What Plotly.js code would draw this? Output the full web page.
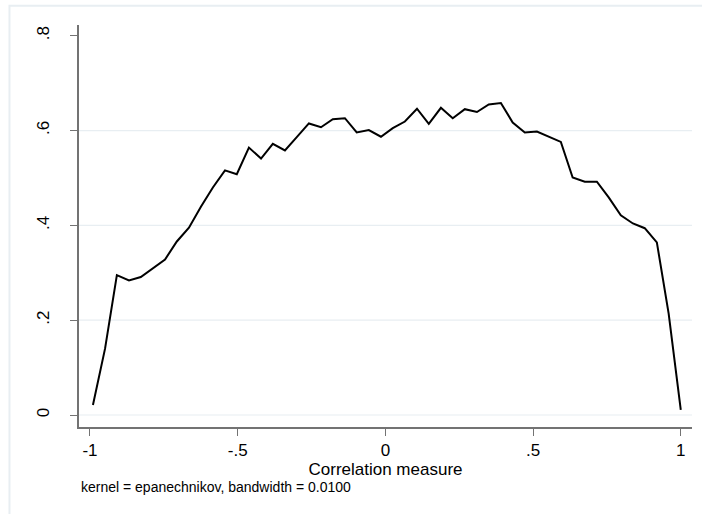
<!DOCTYPE html>
<html>
<head>
<meta charset="utf-8">
<script src="https://cdn.plot.ly/plotly-3.0.1.min.js"></script>
<style>html,body{margin:0;padding:0;background:#fff;}#chart{width:702px;height:514px;}</style>
</head>
<body>
<div id="chart"></div>
<script>
// Evaluation points of the kernel density (correlation measure)
const xPoints = [-0.990, -0.949, -0.909, -0.868, -0.828, -0.787, -0.746, -0.706, -0.665, -0.624,
  -0.584, -0.543, -0.503, -0.462, -0.421, -0.381, -0.340, -0.300, -0.259, -0.218,
  -0.178, -0.137, -0.097, -0.056, -0.015, 0.025, 0.066, 0.107, 0.147, 0.188,
  0.228, 0.269, 0.310, 0.350, 0.391, 0.431, 0.472, 0.513, 0.553, 0.594,
  0.634, 0.675, 0.716, 0.756, 0.797, 0.838, 0.878, 0.919, 0.959, 1.000];
// Density estimates
const density = [0.021, 0.140, 0.295, 0.284, 0.291, 0.310, 0.328, 0.366, 0.395, 0.440,
  0.480, 0.516, 0.508, 0.564, 0.541, 0.572, 0.558, 0.586, 0.615, 0.607,
  0.624, 0.626, 0.596, 0.601, 0.587, 0.605, 0.619, 0.646, 0.614, 0.648,
  0.626, 0.645, 0.639, 0.655, 0.658, 0.617, 0.596, 0.598, 0.587, 0.576,
  0.501, 0.492, 0.492, 0.459, 0.421, 0.404, 0.394, 0.364, 0.214, 0.011];
const xTickVals = [-1, -0.5, 0, 0.5, 1];
const xTickText = ["-1", "-.5", "0", ".5", "1"];
const yTickVals = [0, 0.2, 0.4, 0.6, 0.8];
const yTickText = ["0", ".2", ".4", ".6", ".8"];
const yGridVals = [0, 0.2, 0.4, 0.6];
const xTitle = "Correlation measure";
const noteText = "kernel = epanechnikov, bandwidth = 0.0100";

const FONT = "Liberation Sans, Arial, Helvetica, sans-serif";
const AXIS_COLOR = "#737373";
const GRID_COLOR = "#e8eef2";

const shapes = yGridVals.map(v => ({
  type: "line", xref: "paper", yref: "y", x0: 0, x1: 1, y0: v, y1: v,
  line: {color: GRID_COLOR, width: 1.2}, layer: "below"
}));
// outer graph-region frame (cropped at right/bottom)
shapes.push({
  type: "rect", xref: "paper", yref: "paper",
  x0: -0.1134, x1: 1.2, y0: -0.5, y1: 1.048,
  line: {color: GRID_COLOR, width: 2}, fillcolor: "rgba(0,0,0,0)", layer: "below"
});

const trace = {
  x: xPoints, y: density, type: "scatter", mode: "lines",
  line: {color: "#000000", width: 2}, hoverinfo: "skip"
};

const layout = {
  width: 702, height: 514,
  margin: {l: 79, r: 10, t: 25, b: 87, pad: 0},
  paper_bgcolor: "#ffffff", plot_bgcolor: "#ffffff",
  showlegend: false,
  font: {family: FONT, color: "#000000", size: 17},
  xaxis: {
    range: [-1.0372, 1.038], tickvals: xTickVals, ticktext: xTickText,
    showgrid: false, zeroline: false, showline: true, linecolor: AXIS_COLOR, linewidth: 1.8,
    ticks: "outside", ticklen: 7, tickwidth: 1, tickcolor: AXIS_COLOR,
    tickfont: {family: FONT, size: 17, color: "#000"},
    title: {text: xTitle, font: {family: FONT, size: 17, color: "#000"}, standoff: 0},
    automargin: false
  },
  yaxis: {
    range: [-0.0253, 0.8226], tickvals: yTickVals, ticktext: yTickText,
    showgrid: false, zeroline: false, showline: true, linecolor: AXIS_COLOR, linewidth: 1.8,
    ticks: "outside", ticklen: 7, tickwidth: 1, tickcolor: AXIS_COLOR, tickangle: -90,
    tickfont: {family: FONT, size: 17, color: "#000"},
    ticklabelstandoff: 14,
    automargin: false
  },
  shapes: shapes,
  annotations: [{
    text: noteText, xref: "paper", yref: "paper", x: 0, y: -0.149,
    xanchor: "left", yanchor: "middle", showarrow: false,
    font: {family: FONT, size: 14, color: "#000"}
  }]
};

Plotly.newPlot("chart", [trace], layout, {displayModeBar: false, staticPlot: true});
</script>
</body>
</html>
